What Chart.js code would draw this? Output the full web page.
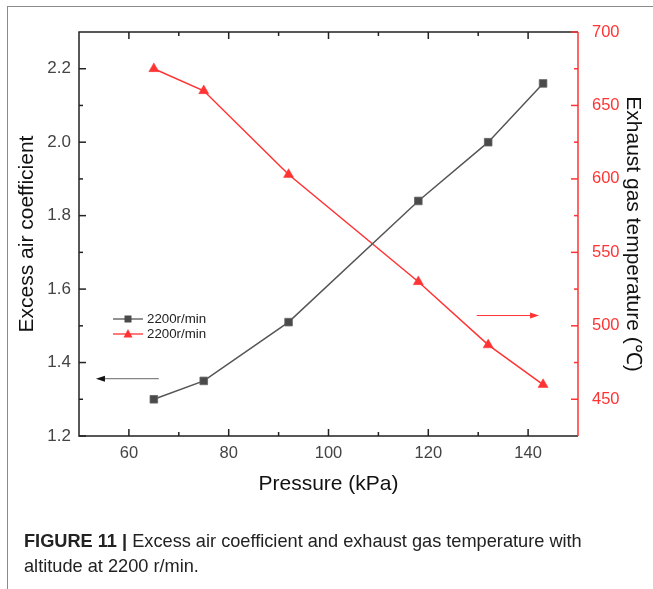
<!DOCTYPE html>
<html><head><meta charset="utf-8">
<script src="https://cdn.jsdelivr.net/npm/chart.js@4/dist/chart.umd.min.js"></script>
<style>
html,body{margin:0;padding:0;background:#fff;}
#wrap{position:relative;width:653px;height:589px;overflow:hidden;background:#fff;}
#frame{position:absolute;left:7px;top:6px;width:700px;height:700px;border-left:1.5px solid #8a8a8a;border-top:1.5px solid #8a8a8a;}
canvas{position:absolute;left:0;top:0;}
#cap{position:absolute;left:24px;top:529px;font-family:'Liberation Sans',Arial,sans-serif;font-size:18.2px;line-height:25px;color:#222;white-space:nowrap;}
#cap b{font-weight:bold;}
</style></head>
<body><div id="wrap"><div id="frame"></div><canvas id="c" width="653" height="589"></canvas>
<div id="cap"><b>FIGURE 11 |</b> Excess air coefficient and exhaust gas temperature with<br>altitude at 2200 r/min.</div></div>
<script>
// ---- data ----
const pressure = [65, 75, 92, 118, 132, 143];
const excessAir = [1.30, 1.35, 1.51, 1.84, 2.00, 2.16];
const exhaustTemp = [675, 660, 603, 530, 487, 460];
const seriesLabels = ['2200r/min', '2200r/min'];
const xTicks = [60, 80, 100, 120, 140];
const xMinorTicks = [70, 90, 110, 130];
const leftTicks = [1.2, 1.4, 1.6, 1.8, 2.0, 2.2];
const leftMinorTicks = [1.3, 1.5, 1.7, 1.9, 2.1];
const rightTicks = [450, 500, 550, 600, 650, 700];
const rightMinorTicks = [475, 525, 575, 625, 675];
// axis-pointer arrows (data units): [xFrom, xTo, value]
const leftArrow = [66, 53.4, 1.356];
const rightArrow = [129.7, 142.2, 507];

const RED = '#ff3333';
const DARK = '#4a4a4a';
const FONT = "'Liberation Sans', Arial, Helvetica, sans-serif";

const framePlugin = {
  id: 'frame',
  afterDraw(chart) {
    const {ctx, chartArea: a, scales: {x, y, y2}} = chart;
    ctx.save();
    ctx.lineWidth = 1.5;
    ctx.strokeStyle = '#222';
    ctx.beginPath();
    ctx.moveTo(a.right, a.top); ctx.lineTo(a.left, a.top); ctx.lineTo(a.left, a.bottom); ctx.lineTo(a.right, a.bottom);
    ctx.stroke();
    ctx.strokeStyle = RED;
    ctx.beginPath(); ctx.moveTo(a.right, a.top); ctx.lineTo(a.right, a.bottom); ctx.stroke();
    ctx.lineWidth = 1.5;
    ctx.strokeStyle = '#222';
    const tk = (arr, len) => arr.forEach(v => {
      const px = x.getPixelForValue(v);
      ctx.beginPath();
      ctx.moveTo(px, a.bottom); ctx.lineTo(px, a.bottom - len);
      ctx.moveTo(px, a.top); ctx.lineTo(px, a.top + len);
      ctx.stroke();
    });
    tk(xTicks, 7); tk(xMinorTicks, 4);
    const ly = (arr, len) => arr.forEach(v => {
      const py = y.getPixelForValue(v);
      ctx.beginPath(); ctx.moveTo(a.left, py); ctx.lineTo(a.left + len, py); ctx.stroke();
    });
    ly(leftTicks, 7); ly(leftMinorTicks, 4);
    ctx.strokeStyle = RED;
    const ry = (arr, len) => arr.forEach(v => {
      const py = y2.getPixelForValue(v);
      ctx.beginPath(); ctx.moveTo(a.right, py); ctx.lineTo(a.right - len, py); ctx.stroke();
    });
    ry(rightTicks, 7); ry(rightMinorTicks, 4);

    const arrow = (spec, scale, lineColor, headColor) => {
      const x0 = x.getPixelForValue(spec[0]);
      const x1 = x.getPixelForValue(spec[1]);
      const py = scale.getPixelForValue(spec[2]);
      const dir = Math.sign(x1 - x0);
      ctx.strokeStyle = lineColor; ctx.lineWidth = 1;
      ctx.beginPath(); ctx.moveTo(x0, py); ctx.lineTo(x1 - dir * 6, py); ctx.stroke();
      ctx.fillStyle = headColor;
      ctx.beginPath(); ctx.moveTo(x1, py); ctx.lineTo(x1 - dir * 9, py - 3); ctx.lineTo(x1 - dir * 9, py + 3); ctx.closePath(); ctx.fill();
    };
    arrow(leftArrow, y, '#666', '#111');
    arrow(rightArrow, y2, RED, RED);

    const ds = chart.data.datasets;
    const rows = [319, 334];
    ds.forEach((d, i) => {
      const cy = rows[i];
      ctx.strokeStyle = d.borderColor; ctx.lineWidth = 1.3;
      ctx.beginPath(); ctx.moveTo(113, cy); ctx.lineTo(143, cy); ctx.stroke();
      ctx.fillStyle = d.pointBackgroundColor;
      if (d.pointStyle === 'rect') {
        ctx.fillRect(124.5, cy - 3.5, 7, 7);
      } else {
        ctx.beginPath(); ctx.moveTo(128, cy - 5); ctx.lineTo(132.5, cy + 3.5); ctx.lineTo(123.5, cy + 3.5); ctx.closePath(); ctx.fill();
      }
      ctx.fillStyle = '#222';
      ctx.font = '13.3px ' + FONT;
      ctx.textAlign = 'left'; ctx.textBaseline = 'middle';
      ctx.fillText(d.label, 147, cy + 0.5);
    });
    ctx.restore();
  }
};

const setTicks = arr => s => { s.ticks = arr.map(v => ({value: v})); };

new Chart(document.getElementById('c'), {
  type: 'line',
  data: {
    datasets: [
      {
        label: seriesLabels[0], yAxisID: 'y',
        data: pressure.map((p, i) => ({x: p, y: excessAir[i]})),
        borderColor: '#555', borderWidth: 1.5,
        pointStyle: 'rect', pointRadius: 5.4, pointBackgroundColor: DARK, pointBorderColor: '#666', pointBorderWidth: 0.8
      },
      {
        label: seriesLabels[1], yAxisID: 'y2',
        data: pressure.map((p, i) => ({x: p, y: exhaustTemp[i]})),
        borderColor: RED, borderWidth: 1.5,
        pointStyle: 'triangle', pointRadius: 5.8, pointBackgroundColor: RED, pointBorderColor: RED, pointBorderWidth: 0.5
      }
    ]
  },
  options: {
    responsive: false, animation: false, devicePixelRatio: 1,
    layout: {padding: {left: 0, right: 0, top: 32, bottom: 83}},
    plugins: {legend: {display: false}, tooltip: {enabled: false}},
    scales: {
      x: {
        type: 'linear', position: 'bottom', min: 50, max: 150,
        grid: {display: false, drawTicks: false}, border: {display: false},
        afterBuildTicks: setTicks(xTicks),
        afterFit: s => { s.height = 70; },
        ticks: {padding: 8, color: '#444', font: {family: FONT, size: 16.5}, callback: v => String(v)},
        title: {display: true, text: 'Pressure (kPa)', color: '#111', font: {family: FONT, size: 21}, padding: {top: 0, bottom: 9}}
      },
      y: {
        type: 'linear', position: 'left', min: 1.2, max: 2.3,
        grid: {display: false, drawTicks: false}, border: {display: false},
        afterBuildTicks: setTicks(leftTicks),
        afterFit: s => { s.width = 79; },
        ticks: {padding: 8, color: '#444', font: {family: FONT, size: 17}, callback: v => v.toFixed(1)},
        title: {display: true, text: 'Excess air coefficient', color: '#111', font: {family: FONT, size: 21}, padding: {top: 15, bottom: 0}}
      },
      y2: {
        type: 'linear', position: 'right', min: 425, max: 700,
        grid: {display: false, drawTicks: false}, border: {display: false},
        afterBuildTicks: setTicks(rightTicks),
        afterFit: s => { s.width = 75; },
        ticks: {padding: 14, color: RED, font: {family: FONT, size: 16.5}, callback: v => String(v)},
        title: {display: true, text: 'Exhaust gas temperature (℃)', color: '#111', font: {family: FONT, size: 21}, padding: {top: 8, bottom: 0}}
      }
    }
  },
  plugins: [framePlugin]
});
</script>
</body></html>
